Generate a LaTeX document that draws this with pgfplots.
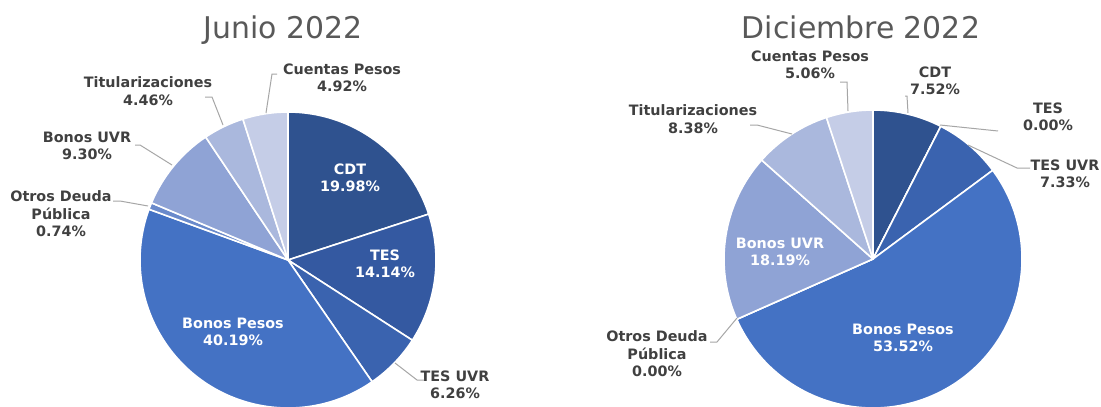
\documentclass[border=0pt]{standalone}
\usepackage{pgfplots}
\pgfplotsset{compat=1.18}
\usepackage{pgfplotstable}
\usepackage{fontspec}
\setmainfont{DejaVu Sans}

\definecolor{cCDT}{HTML}{2F528F}
\definecolor{cTES}{HTML}{3459A1}
\definecolor{cTESUVR}{HTML}{3A63AF}
\definecolor{cBP}{HTML}{4472C4}
\definecolor{cOtros}{HTML}{6A8ACB}
\definecolor{cBUVR}{HTML}{8FA3D5}
\definecolor{cTit}{HTML}{AAB8DD}
\definecolor{cCP}{HTML}{C5CDE7}
\definecolor{lbl}{HTML}{404040}
\definecolor{ttl}{HTML}{595959}
\definecolor{lead}{HTML}{A6A6A6}

% share of each class, clockwise from 12 o'clock
\pgfplotstableread{
v     col
19.98 cCDT
14.14 cTES
6.26  cTESUVR
40.19 cBP
0.74  cOtros
9.30  cBUVR
4.46  cTit
4.92  cCP
}\junio

\pgfplotstableread{
v     col
7.52  cCDT
0.00  cTES
7.33  cTESUVR
53.52 cBP
0.00  cOtros
18.19 cBUVR
8.38  cTit
5.06  cCP
}\diciembre

% #1 table, #2/#3 centre, #4 radius (axis units = bp)
\newcommand\pie[4]{%
  \pgfplotstablegetrowsof{#1}%
  \pgfmathtruncatemacro\nrows{\pgfplotsretval-1}%
  \def\cum{0}%
  \pgfplotsforeachungrouped \i in {0,...,\nrows}{%
    \pgfplotstablegetelem{\i}{v}\of{#1}\let\val\pgfplotsretval
    \pgfplotstablegetelem{\i}{col}\of{#1}\let\col\pgfplotsretval
    \pgfmathsetmacro\aa{90-3.6*\cum}%
    \pgfmathsetmacro\cum{\cum+\val}%
    \pgfmathsetmacro\bb{90-3.6*\cum}%
    \edef\tmp{\noexpand\filldraw[fill=\col,draw=white,line width=1.6bp,line join=round]
      (axis cs:#2,#3) -- ++(\aa:#4bp) arc[start angle=\aa,end angle=\bb,radius=#4bp] -- cycle;}%
    \tmp
  }%
}

\tikzset{
  lab/.style={font=\fontsize{14.4}{17.5}\selectfont\bfseries,text=lbl,align=center,inner sep=0pt},
  wlab/.style={lab,text=white},
  ldr/.style={draw=lead,line width=1bp},
}

\begin{document}
\begin{tikzpicture}
\begin{axis}[
  x=1bp,y=1bp,
  xmin=0,xmax=1101,ymin=0,ymax=406,
  scale only axis,
  hide axis,
]
\path[fill=white] (axis cs:0,0) rectangle (axis cs:1101,406);

\pie{\junio}{288}{146}{148}
\pie{\diciembre}{873}{147}{149}

% titles
\node[font=\fontsize{30}{35}\selectfont,text=ttl,anchor=base] at (axis cs:283,368) {Junio 2022};
\node[font=\fontsize{30}{35}\selectfont,text=ttl,anchor=base] at (axis cs:861,368) {Diciembre 2022};

% Junio labels
\node[wlab] at (axis cs:350,228) {CDT\\19.98\%};
\node[wlab] at (axis cs:385,142) {TES\\14.14\%};
\node[wlab] at (axis cs:233,74) {Bonos Pesos\\40.19\%};
\node[lab] at (axis cs:455,21) {TES UVR\\6.26\%};
\node[lab] at (axis cs:61,192) {Otros Deuda\\Pública\\0.74\%};
\node[lab] at (axis cs:87,260) {Bonos UVR\\9.30\%};
\node[lab] at (axis cs:148,315) {Titularizaciones\\4.46\%};
\node[lab] at (axis cs:342,328) {Cuentas Pesos\\4.92\%};

\draw[ldr] (axis cs:395,43) -- (axis cs:417,26) -- (axis cs:424,26);
\draw[ldr] (axis cs:113,205) -- (axis cs:120,205) -- (axis cs:148,200);
\draw[ldr] (axis cs:135,261) -- (axis cs:140,261) -- (axis cs:172,241);
\draw[ldr] (axis cs:205,309) -- (axis cs:212,309) -- (axis cs:223,281);
\draw[ldr] (axis cs:277,332) -- (axis cs:272,332) -- (axis cs:266,293);

% Diciembre labels
\node[wlab] at (axis cs:780,154) {Bonos UVR\\18.19\%};
\node[wlab] at (axis cs:903,68) {Bonos Pesos\\53.52\%};
\node[lab] at (axis cs:810,341) {Cuentas Pesos\\5.06\%};
\node[lab] at (axis cs:935,325) {CDT\\7.52\%};
\node[lab] at (axis cs:1048,289) {TES\\0.00\%};
\node[lab] at (axis cs:1065,232) {TES UVR\\7.33\%};
\node[lab] at (axis cs:693,287) {Titularizaciones\\8.38\%};
\node[lab] at (axis cs:657,52) {Otros Deuda\\Pública\\0.00\%};

\draw[ldr] (axis cs:840,324) -- (axis cs:847,324) -- (axis cs:848,295);
\draw[ldr] (axis cs:905,310) -- (axis cs:907,310) -- (axis cs:908,293);
\draw[ldr] (axis cs:940,281) -- (axis cs:998,275);
\draw[ldr] (axis cs:968,261) -- (axis cs:1017,238) -- (axis cs:1030,238);
\draw[ldr] (axis cs:750,281) -- (axis cs:757,281) -- (axis cs:792,272);
\draw[ldr] (axis cs:710,64) -- (axis cs:717,64) -- (axis cs:737,88);
\end{axis}
\end{tikzpicture}
\end{document}
